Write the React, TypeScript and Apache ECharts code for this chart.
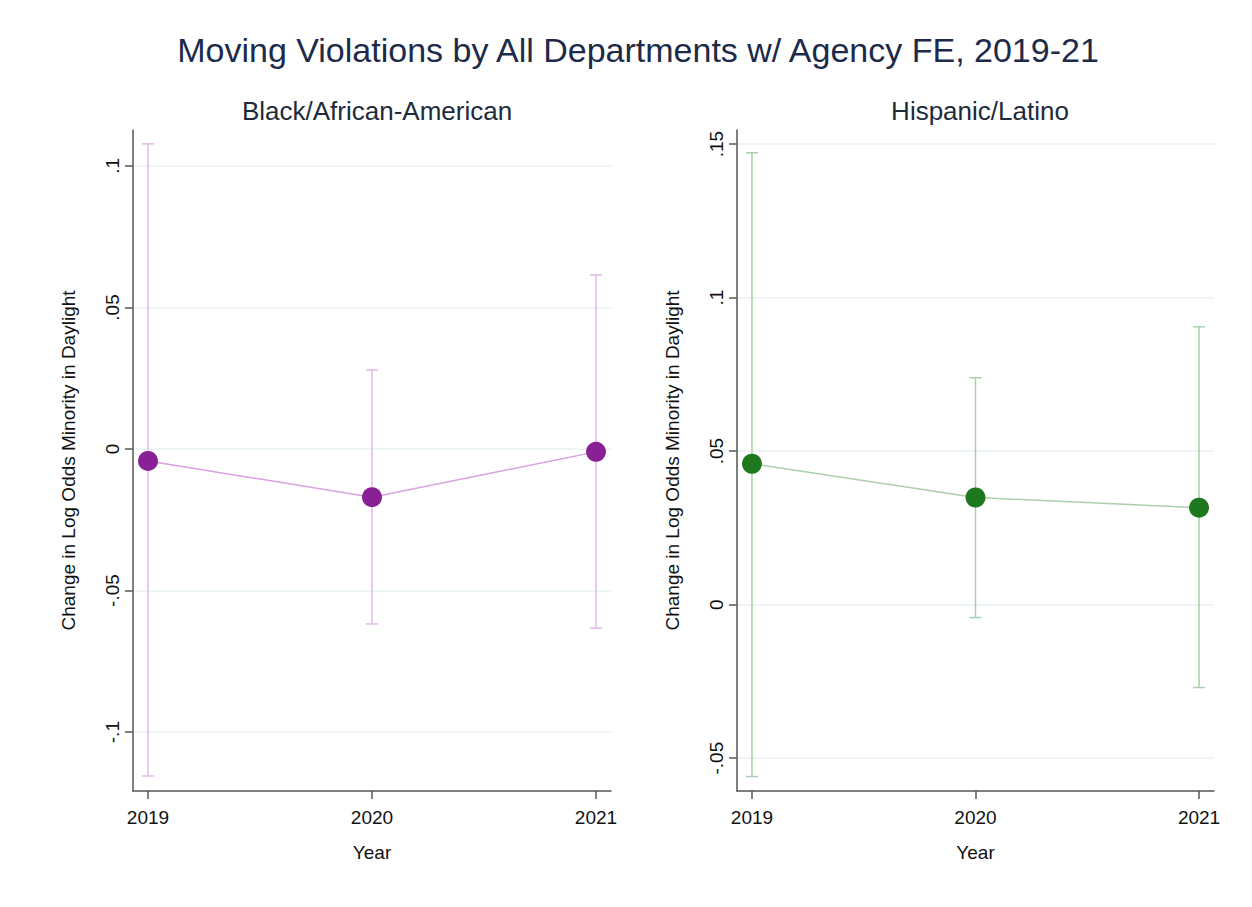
import React, { useEffect, useRef } from "react";
import * as echarts from "echarts";

const years = [2019, 2020, 2021];
const blackEst = [-0.0042, -0.017, -0.001];
const blackLo = [-0.1155, -0.0618, -0.0633];
const blackHi = [0.1078, 0.0279, 0.0615];
const hispEst = [0.0459, 0.0349, 0.0316];
const hispLo = [-0.056, -0.0042, -0.027];
const hispHi = [0.1472, 0.0739, 0.0905];
const blackTicks = [-0.1, -0.05, 0, 0.05, 0.1];
const hispTicks = [-0.05, 0, 0.05, 0.1, 0.15];

const FONT = "Liberation Sans, Arial, sans-serif";

function fmt(v: number) {
  if (Math.abs(v) < 1e-9) return "0";
  const s = String(+Math.abs(v).toFixed(2)).replace(/^0/, "");
  return (v < 0 ? "-" : "") + s;
}

function errorSeries(idx: number, lo: number[], hi: number[], color: string) {
  return {
    type: "custom",
    xAxisIndex: idx,
    yAxisIndex: idx,
    z: 1,
    data: years.map((y, i) => [y, lo[i], hi[i]]),
    renderItem: (params: any, api: any) => {
      const x = api.value(0);
      const p1 = api.coord([x, api.value(1)]);
      const p2 = api.coord([x, api.value(2)]);
      const hw = 6;
      const style = { stroke: color, lineWidth: 1.5 };
      return {
        type: "group",
        children: [
          { type: "line", shape: { x1: p1[0], y1: p1[1], x2: p2[0], y2: p2[1] }, style },
          { type: "line", shape: { x1: p1[0] - hw, y1: p1[1], x2: p1[0] + hw, y2: p1[1] }, style },
          { type: "line", shape: { x1: p2[0] - hw, y1: p2[1], x2: p2[0] + hw, y2: p2[1] }, style },
        ],
      };
    },
  };
}

function xAxis(idx: number) {
  return {
    type: "value",
    gridIndex: idx,
    min: 2019 - 15 / 224,
    max: 2021 + 15 / 224,
    name: "Year",
    nameLocation: "middle",
    nameGap: 52,
    nameTextStyle: { fontFamily: FONT, fontSize: 19, color: "#111" },
    axisLine: { show: true, onZero: false, lineStyle: { color: "#555", width: 1.5 } },
    axisTick: { show: true, length: 8, customValues: years, lineStyle: { color: "#555", width: 1.5 } },
    axisLabel: {
      customValues: years,
      margin: 17,
      fontFamily: FONT,
      fontSize: 19,
      color: "#111",
      formatter: (v: number) => String(Math.round(v)),
    },
    splitLine: { show: false },
  };
}

function yAxis(idx: number, min: number, max: number, ticks: number[]) {
  return {
    type: "value",
    gridIndex: idx,
    min,
    max,
    name: "Change in Log Odds Minority in Daylight",
    nameLocation: "middle",
    nameGap: 55,
    nameTextStyle: { fontFamily: FONT, fontSize: 19, color: "#111" },
    axisLine: { show: true, onZero: false, lineStyle: { color: "#555", width: 1.5 } },
    axisTick: { show: true, length: 8, customValues: ticks, lineStyle: { color: "#555", width: 1.5 } },
    axisLabel: {
      customValues: ticks,
      rotate: 90,
      margin: 11,
      fontFamily: FONT,
      fontSize: 19,
      color: "#111",
      formatter: (v: number) => fmt(v),
    },
    splitLine: { show: true, lineStyle: { color: "#e9f2f2", width: 1.5 } },
  };
}

function lineSeries(idx: number, est: number[], lineColor: string, dotColor: string) {
  return {
    type: "line",
    xAxisIndex: idx,
    yAxisIndex: idx,
    z: 3,
    data: years.map((y, i) => [y, est[i]]),
    symbol: "circle",
    symbolSize: 20,
    lineStyle: { color: lineColor, width: 1.5 },
    itemStyle: { color: dotColor, opacity: 1 },
  };
}

export default function App() {
  const ref = useRef<HTMLDivElement>(null);
  useEffect(() => {
    if (!ref.current) return;
    const chart = echarts.init(ref.current, null, { renderer: "svg" });
    chart.setOption({
      animation: false,
      backgroundColor: "#ffffff",
      title: [
        {
          text: "Moving Violations by All Departments w/ Agency FE, 2019-21",
          left: 633,
          textAlign: "center",
          top: 28,
          textStyle: { fontFamily: FONT, fontSize: 34, fontWeight: "normal", color: "#1d2b4a" },
        },
        {
          text: "Black/African-American",
          left: 372,
          textAlign: "center",
          top: 93,
          textStyle: { fontFamily: FONT, fontSize: 26, fontWeight: "normal", color: "#1d2b3a" },
        },
        {
          text: "Hispanic/Latino",
          left: 975,
          textAlign: "center",
          top: 93,
          textStyle: { fontFamily: FONT, fontSize: 26, fontWeight: "normal", color: "#1d2b3a" },
        },
      ],
      grid: [
        { left: 133, top: 130, width: 478, height: 661 },
        { left: 737, top: 130, width: 477, height: 661 },
      ],
      xAxis: [xAxis(0), xAxis(1)],
      yAxis: [yAxis(0, -0.1208, 0.1127, blackTicks), yAxis(1, -0.0607, 0.1546, hispTicks)],
      series: [
        errorSeries(0, blackLo, blackHi, "#e4b8e8"),
        lineSeries(0, blackEst, "#d8a2de", "#8a2096"),
        errorSeries(1, hispLo, hispHi, "#a9d0a9"),
        lineSeries(1, hispEst, "#a9d0a9", "#1e781e"),
      ],
    });
    return () => chart.dispose();
  }, []);
  return (
    <div
      ref={ref}
      style={{ position: "fixed", left: 0, top: 0, width: 1252, height: 907, background: "#fff" }}
    />
  );
}
